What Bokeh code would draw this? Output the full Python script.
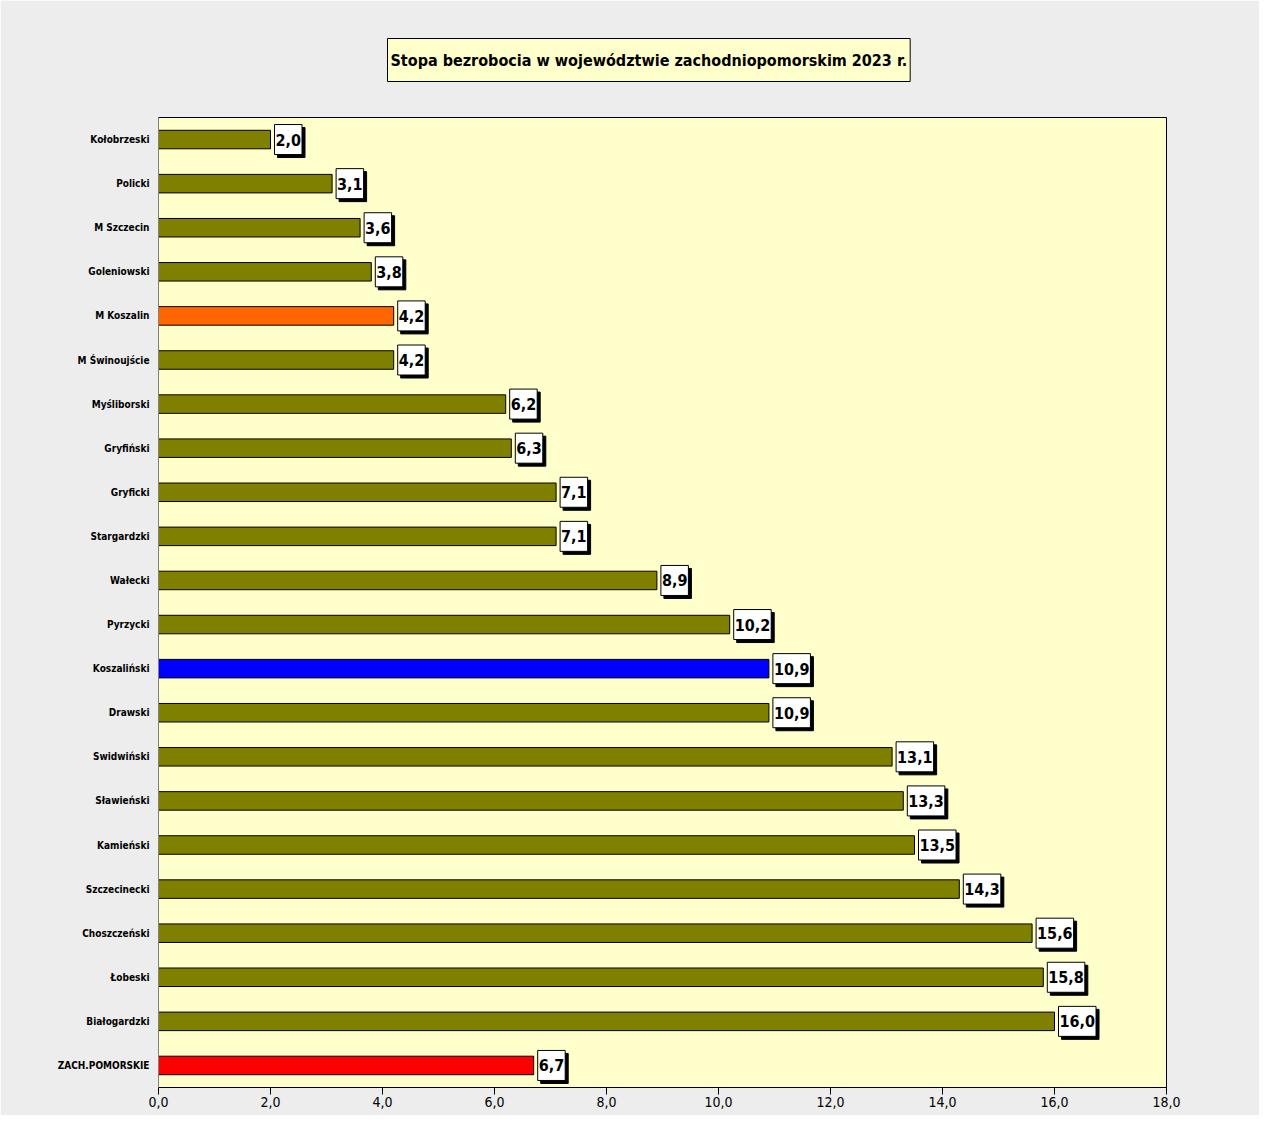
from bokeh.plotting import figure
from bokeh.models import ColumnDataSource, FactorRange, Range1d, FixedTicker, Title
from bokeh.core.properties import value
from bokeh.embed import file_html
from bokeh.resources import INLINE

# ---- data ----
categories = ["Kołobrzeski", "Policki", "M Szczecin", "Goleniowski", "M Koszalin",
              "M Świnoujście", "Myśliborski", "Gryfiński", "Gryficki", "Stargardzki",
              "Wałecki", "Pyrzycki", "Koszaliński", "Drawski", "Swidwiński",
              "Sławieński", "Kamieński", "Szczecinecki", "Choszczeński", "Łobeski",
              "Białogardzki", "ZACH.POMORSKIE"]
values = [2.0, 3.1, 3.6, 3.8, 4.2, 4.2, 6.2, 6.3, 7.1, 7.1, 8.9, 10.2, 10.9, 10.9,
          13.1, 13.3, 13.5, 14.3, 15.6, 15.8, 16.0, 6.7]
highlight = {"M Koszalin": "#FF6600", "Koszaliński": "#0000FF", "ZACH.POMORSKIE": "#FF0000"}
x_ticks = [0, 2, 4, 6, 8, 10, 12, 14, 16, 18]
title_text = "Stopa bezrobocia w województwie zachodniopomorskim 2023 r."

NARROW = "DejaVu Sans Condensed"

colors = [highlight.get(c, "#808000") for c in categories]
labels = [f"{v:.1f}".replace(".", ",") for v in values]
src = ColumnDataSource(dict(cat=categories, val=values, col=colors, lab=labels))

p = figure(width=1259, height=1115, output_backend="svg", toolbar_location=None,
           y_range=FactorRange(factors=list(reversed(categories)), range_padding=0),
           x_range=Range1d(0, 18),
           min_border_left=158, min_border_right=93, min_border_top=117, min_border_bottom=28)

p.title = Title(text=title_text, align="left", offset=229, standoff=72,
                text_font=NARROW, text_font_size="16px", text_font_style="bold",
                text_color="#000000", background_fill_color="#FFFFCC",
                border_line_color="#000000", border_line_width=1,
                padding=dict(left=3, right=3, top=12, bottom=12))

p.background_fill_color = "#FFFFCC"
p.border_fill_color = "#EDEDED"
p.outline_line_color = "#000000"
p.outline_line_width = 1
p.grid.visible = False

p.hbar(y="cat", right="val", left=0, height=0.42, source=src,
       fill_color="col", line_color="#000000", line_width=1)

# value labels with shadow
pad = dict(left=1, right=1, top=9, bottom=9)
p.text(x="val", y="cat", text="lab", source=src, x_offset=7, y_offset=3,
       text_baseline="middle", text_align="left",
       text_font=value(NARROW), text_font_size="16px", text_font_style="bold",
       text_color="#000000", background_fill_color="#000000",
       border_line_color="#000000", padding=pad)
p.text(x="val", y="cat", text="lab", source=src, x_offset=4, y_offset=0,
       text_baseline="middle", text_align="left",
       text_font=value(NARROW), text_font_size="16px", text_font_style="bold",
       text_color="#000000", background_fill_color="#FFFFFF",
       border_line_color="#000000", border_line_width=1, padding=pad)

# x axis
p.xaxis.ticker = FixedTicker(ticks=x_ticks)
p.xaxis.major_label_overrides = {t: f"{t:.1f}".replace(".", ",") for t in x_ticks}
p.xaxis.major_label_text_font = NARROW
p.xaxis.major_label_text_font_size = "14px"
p.xaxis.major_label_text_color = "#000000"
p.xaxis.major_tick_out = 7
p.xaxis.major_tick_in = 0
p.xaxis.minor_tick_line_color = None
p.xaxis.axis_line_color = "#000000"
p.xaxis.major_tick_line_color = "#000000"
p.xaxis.major_label_standoff = 2

# y axis
p.yaxis.major_label_text_font = NARROW
p.yaxis.major_label_text_font_size = "10px"
p.yaxis.major_label_text_font_style = "bold"
p.yaxis.major_label_text_color = "#000000"
p.yaxis.major_tick_line_color = None
p.yaxis.minor_tick_line_color = None
p.yaxis.axis_line_color = "#808080"
p.yaxis.major_label_standoff = 3

open("out.html", "w").write(file_html(p, INLINE))
